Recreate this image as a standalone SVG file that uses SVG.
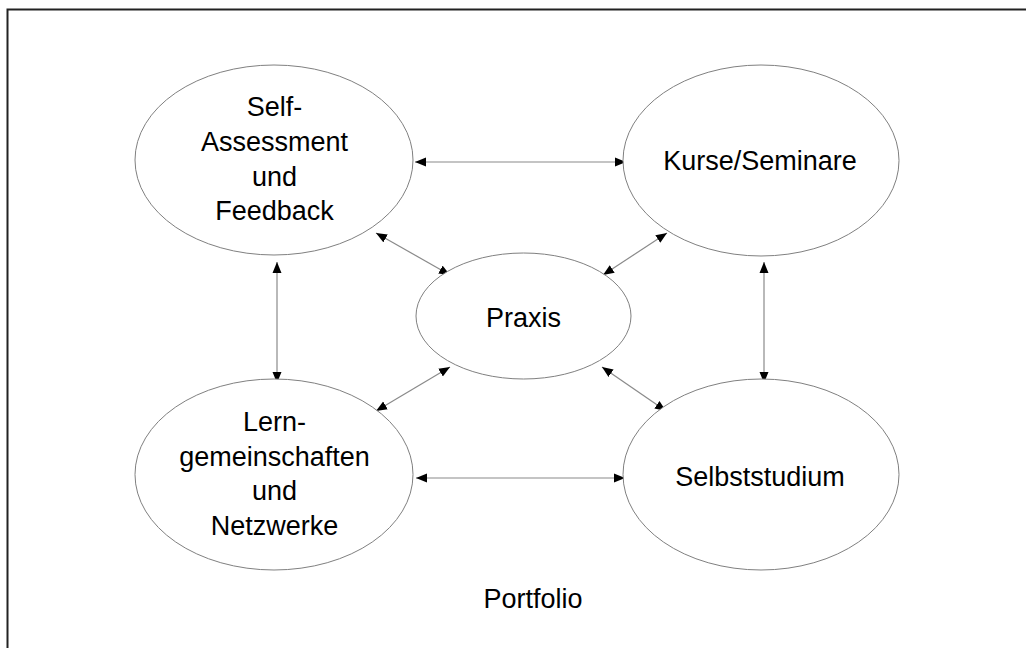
<svg xmlns="http://www.w3.org/2000/svg" width="1026" height="648" viewBox="0 0 1026 648">
<style>
.node ellipse{fill:#fff;stroke:#808080;stroke-width:1}
.lbl{font-family:"Liberation Sans",Arial,sans-serif;font-size:27px;fill:#000;text-anchor:middle}
.conn line{stroke:#8a8a8a;stroke-width:1.2;marker-start:url(#ah);marker-end:url(#ah)}
</style>
<defs>
<marker id="ah" markerUnits="userSpaceOnUse" markerWidth="12" markerHeight="10" refX="11" refY="5" orient="auto-start-reverse">
<path d="M0,0.5 L11,5 L0,9.5 z" fill="#000"/>
</marker>
</defs>
<rect x="0" y="0" width="1026" height="648" fill="#fff"/>
<path d="M7.5,648 L7.5,9.5 L1026,9.5" fill="none" stroke="#222" stroke-width="2"/>
<g class="conn">
<line x1="415" y1="162" x2="626" y2="162"/>
<line x1="416" y1="478" x2="625" y2="478"/>
<line x1="277" y1="262" x2="277" y2="383"/>
<line x1="764" y1="262" x2="764" y2="383"/>
<line x1="376" y1="233" x2="450" y2="275"/>
<line x1="667" y1="233" x2="603" y2="275"/>
<line x1="450" y1="367" x2="376" y2="411"/>
<line x1="602" y1="367" x2="666" y2="411"/>
</g>
<g id="self-assessment" class="node">
<ellipse cx="274" cy="160" rx="139" ry="95"/>
<text class="lbl" x="274.5" y="116">Self-</text>
<text class="lbl" x="274.5" y="151">Assessment</text>
<text class="lbl" x="274.5" y="186">und</text>
<text class="lbl" x="274.5" y="220">Feedback</text>
</g>
<g id="kurse" class="node">
<ellipse cx="761" cy="160.5" rx="138" ry="95.5"/>
<text class="lbl" x="760" y="170">Kurse/Seminare</text>
</g>
<g id="praxis" class="node">
<ellipse cx="523.5" cy="316" rx="107.5" ry="63"/>
<text class="lbl" x="523.5" y="327">Praxis</text>
</g>
<g id="lerngemeinschaften" class="node">
<ellipse cx="274" cy="474.5" rx="139" ry="95.5"/>
<text class="lbl" x="274.5" y="431">Lern-</text>
<text class="lbl" x="274.5" y="465.5">gemeinschaften</text>
<text class="lbl" x="274.5" y="500">und</text>
<text class="lbl" x="274.5" y="534.5">Netzwerke</text>
</g>
<g id="selbststudium" class="node">
<ellipse cx="761" cy="474.5" rx="138" ry="95.5"/>
<text class="lbl" x="760" y="486">Selbststudium</text>
</g>
<g id="portfolio">
<text class="lbl" x="533" y="608">Portfolio</text>
</g>
</svg>
